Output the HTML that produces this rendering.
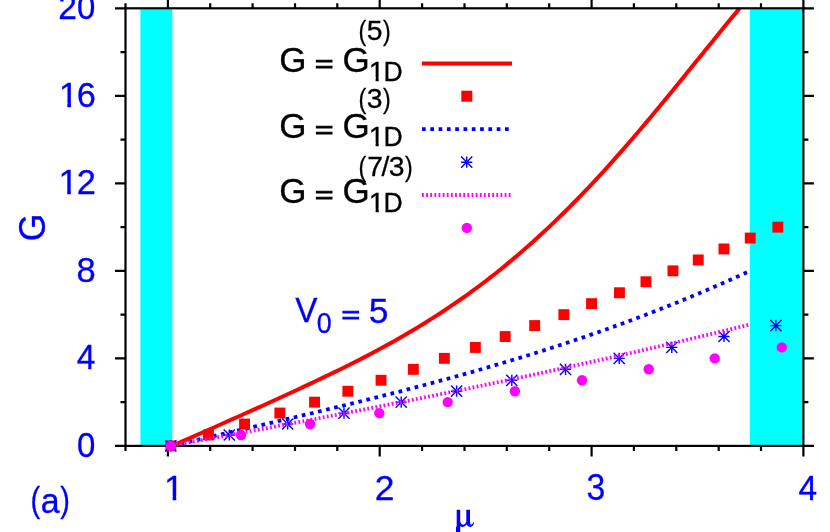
<!DOCTYPE html>
<html><head><meta charset="utf-8"><title>G vs mu</title>
<style>
html,body{margin:0;padding:0;background:#fff;overflow:hidden}
svg{display:block;will-change:transform}
text{font-family:"Liberation Sans",sans-serif}
text.mu{font-family:"Liberation Serif",serif}
</style></head><body>
<svg width="830" height="532" viewBox="0 0 830 532">
<rect x="0" y="0" width="830" height="532" fill="#fff"/>
<rect x="140.4" y="9.3" width="31.9" height="436" fill="#0ff"/>
<rect x="749.9" y="9.3" width="52.6" height="436" fill="#0ff"/>
<polyline points="172.5,445.6 178.5,444.2 184.5,442.8 190.5,441.5 196.5,440.1 202.5,438.7 208.5,437.3 214.5,435.9 220.5,434.5 226.5,433.1 232.5,431.7 238.5,430.4 244.5,429.0 250.5,427.6 256.5,426.2 262.5,424.8 268.5,423.4 274.5,422.0 280.5,420.6 286.5,419.2 292.5,417.8 298.5,416.4 304.5,414.9 310.5,413.5 316.5,412.1 322.5,410.6 328.5,409.2 334.5,407.7 340.5,406.3 346.5,404.8 352.5,403.4 358.5,401.9 364.5,400.4 370.5,398.9 376.5,397.4 382.5,395.9 388.5,394.3 394.5,392.8 400.5,391.3 406.5,389.7 412.5,388.1 418.5,386.6 424.5,385.0 430.5,383.4 436.5,381.7 442.5,380.1 448.5,378.5 454.5,376.8 460.5,375.2 466.5,373.5 472.5,371.8 478.5,370.1 484.5,368.3 490.5,366.6 496.5,364.8 502.5,363.0 508.5,361.2 514.5,359.4 520.5,357.6 526.5,355.8 532.5,353.9 538.5,352.0 544.5,350.1 550.5,348.2 556.5,346.2 562.5,344.3 568.5,342.3 574.5,340.3 580.5,338.3 586.5,336.2 592.5,334.1 598.5,332.1 604.5,329.9 610.5,327.8 616.5,325.6 622.5,323.5 628.5,321.3 634.5,319.0 640.5,316.8 646.5,314.5 652.5,312.2 658.5,309.8 664.5,307.5 670.5,305.1 676.5,302.7 682.5,300.2 688.5,297.8 694.5,295.3 700.5,292.8 706.5,290.2 712.5,287.6 718.5,285.0 724.5,282.4 730.5,279.7 736.5,277.0 742.5,274.3 748.5,271.5 750.5,270.6" fill="none" stroke="#00f" stroke-width="3.8" stroke-dasharray="3.7 4.6"/>
<polyline points="172.5,445.7 178.5,443.1 184.5,440.4 190.5,437.8 196.5,435.2 202.5,432.5 208.5,429.9 214.5,427.2 220.5,424.5 226.5,421.8 232.5,419.2 238.5,416.5 244.5,413.8 250.5,411.1 256.5,408.4 262.5,405.7 268.5,403.0 274.5,400.2 280.5,397.5 286.5,394.8 292.5,392.0 298.5,389.2 304.5,386.4 310.5,383.6 316.5,380.8 322.5,377.9 328.5,375.0 334.5,372.1 340.5,369.2 346.5,366.2 352.5,363.2 358.5,360.2 364.5,357.1 370.5,353.9 376.5,350.7 382.5,347.5 388.5,344.2 394.5,340.9 400.5,337.5 406.5,334.0 412.5,330.5 418.5,326.9 424.5,323.2 430.5,319.4 436.5,315.6 442.5,311.7 448.5,307.7 454.5,303.7 460.5,299.5 466.5,295.3 472.5,290.9 478.5,286.5 484.5,282.0 490.5,277.4 496.5,272.7 502.5,267.9 508.5,262.9 514.5,257.9 520.5,252.8 526.5,247.6 532.5,242.3 538.5,236.8 544.5,231.3 550.5,225.6 556.5,219.9 562.5,214.0 568.5,208.1 574.5,202.0 580.5,195.9 586.5,189.6 592.5,183.3 598.5,176.8 604.5,170.3 610.5,163.6 616.5,156.9 622.5,150.1 628.5,143.2 634.5,136.2 640.5,129.2 646.5,122.1 652.5,115.0 658.5,107.7 664.5,100.5 670.5,93.2 676.5,85.8 682.5,78.4 688.5,71.0 694.5,63.6 700.5,56.2 706.5,48.8 712.5,41.4 718.5,34.0 724.5,26.6 730.5,19.3 736.5,12.1 739.5,8.5" fill="none" stroke="#f00" stroke-width="4" stroke-linejoin="round"/>
<g stroke="#000" stroke-width="2.2" fill="none">
<rect x="125.5" y="8.3" width="677.9" height="437.6"/>
<path d="M125.5 445.9V450.9M125.5 8.3V3.3M167.9 445.9V456.4M167.9 8.3V-2.2M210.2 445.9V450.9M210.2 8.3V3.3M252.6 445.9V450.9M252.6 8.3V3.3M295.0 445.9V450.9M295.0 8.3V3.3M337.3 445.9V450.9M337.3 8.3V3.3M379.7 445.9V456.4M379.7 8.3V-2.2M422.1 445.9V450.9M422.1 8.3V3.3M464.5 445.9V450.9M464.5 8.3V3.3M506.8 445.9V450.9M506.8 8.3V3.3M549.2 445.9V450.9M549.2 8.3V3.3M591.6 445.9V456.4M591.6 8.3V-2.2M633.9 445.9V450.9M633.9 8.3V3.3M676.3 445.9V450.9M676.3 8.3V3.3M718.7 445.9V450.9M718.7 8.3V3.3M761.0 445.9V450.9M761.0 8.3V3.3M803.4 445.9V456.4M803.4 8.3V-2.2M125.5 445.9H115.0M803.4 445.9H813.9M125.5 402.1H120.5M803.4 402.1H808.4M125.5 358.4H115.0M803.4 358.4H813.9M125.5 314.6H120.5M803.4 314.6H808.4M125.5 270.9H115.0M803.4 270.9H813.9M125.5 227.1H120.5M803.4 227.1H808.4M125.5 183.3H115.0M803.4 183.3H813.9M125.5 139.6H120.5M803.4 139.6H808.4M125.5 95.8H115.0M803.4 95.8H813.9M125.5 52.1H120.5M803.4 52.1H808.4M125.5 8.3H115.0M803.4 8.3H813.9"/>
</g>
<rect x="165.4" y="440.4" width="10.9" height="10.9" fill="#f00"/>
<rect x="203.0" y="429.5" width="10.9" height="10.9" fill="#f00"/>
<rect x="239.1" y="418.6" width="10.9" height="10.9" fill="#f00"/>
<rect x="274.4" y="407.6" width="10.9" height="10.9" fill="#f00"/>
<rect x="309.1" y="396.7" width="10.9" height="10.9" fill="#f00"/>
<rect x="342.4" y="385.8" width="10.9" height="10.9" fill="#f00"/>
<rect x="375.6" y="374.8" width="10.9" height="10.9" fill="#f00"/>
<rect x="407.9" y="363.9" width="10.9" height="10.9" fill="#f00"/>
<rect x="438.9" y="352.9" width="10.9" height="10.9" fill="#f00"/>
<rect x="469.9" y="342.0" width="10.9" height="10.9" fill="#f00"/>
<rect x="499.7" y="331.1" width="10.9" height="10.9" fill="#f00"/>
<rect x="529.2" y="320.1" width="10.9" height="10.9" fill="#f00"/>
<rect x="558.4" y="309.2" width="10.9" height="10.9" fill="#f00"/>
<rect x="586.1" y="298.2" width="10.9" height="10.9" fill="#f00"/>
<rect x="614.0" y="287.3" width="10.9" height="10.9" fill="#f00"/>
<rect x="640.5" y="276.3" width="10.9" height="10.9" fill="#f00"/>
<rect x="667.5" y="265.4" width="10.9" height="10.9" fill="#f00"/>
<rect x="692.8" y="254.5" width="10.9" height="10.9" fill="#f00"/>
<rect x="718.5" y="243.5" width="10.9" height="10.9" fill="#f00"/>
<rect x="744.8" y="232.6" width="10.9" height="10.9" fill="#f00"/>
<rect x="772.4" y="221.7" width="10.9" height="10.9" fill="#f00"/>
<path d="M165.2 445.9H176.4M170.8 440.3V451.5M165.2 440.3L176.4 451.5M165.2 451.5L176.4 440.3" stroke="#00f" stroke-width="1.4" fill="none"/>
<path d="M223.7 435.0H234.9M229.3 429.4V440.6M223.7 429.4L234.9 440.6M223.7 440.6L234.9 429.4" stroke="#00f" stroke-width="1.4" fill="none"/>
<path d="M282.1 424.0H293.3M287.7 418.4V429.6M282.1 418.4L293.3 429.6M282.1 429.6L293.3 418.4" stroke="#00f" stroke-width="1.4" fill="none"/>
<path d="M338.4 413.1H349.6M344.0 407.5V418.7M338.4 407.5L349.6 418.7M338.4 418.7L349.6 407.5" stroke="#00f" stroke-width="1.4" fill="none"/>
<path d="M395.6 402.1H406.8M401.2 396.5V407.7M395.6 396.5L406.8 407.7M395.6 407.7L406.8 396.5" stroke="#00f" stroke-width="1.4" fill="none"/>
<path d="M451.0 391.2H462.2M456.6 385.6V396.8M451.0 385.6L462.2 396.8M451.0 396.8L462.2 385.6" stroke="#00f" stroke-width="1.4" fill="none"/>
<path d="M506.2 380.3H517.4M511.8 374.7V385.9M506.2 374.7L517.4 385.9M506.2 385.9L517.4 374.7" stroke="#00f" stroke-width="1.4" fill="none"/>
<path d="M559.9 369.3H571.1M565.5 363.7V374.9M559.9 363.7L571.1 374.9M559.9 374.9L571.1 363.7" stroke="#00f" stroke-width="1.4" fill="none"/>
<path d="M613.6 358.4H624.8M619.2 352.8V364.0M613.6 352.8L624.8 364.0M613.6 364.0L624.8 352.8" stroke="#00f" stroke-width="1.4" fill="none"/>
<path d="M666.2 347.4H677.4M671.8 341.8V353.0M666.2 341.8L677.4 353.0M666.2 353.0L677.4 341.8" stroke="#00f" stroke-width="1.4" fill="none"/>
<path d="M718.4 336.5H729.6M724.0 330.9V342.1M718.4 330.9L729.6 342.1M718.4 342.1L729.6 330.9" stroke="#00f" stroke-width="1.4" fill="none"/>
<path d="M770.3 325.6H781.5M775.9 320.0V331.2M770.3 320.0L781.5 331.2M770.3 331.2L781.5 320.0" stroke="#00f" stroke-width="1.4" fill="none"/>
<polyline points="172.5,445.4 178.5,444.3 184.5,443.2 190.5,442.1 196.5,441.0 202.5,439.9 208.5,438.8 214.5,437.7 220.5,436.7 226.5,435.6 232.5,434.4 238.5,433.3 244.5,432.2 250.5,431.1 256.5,430.0 262.5,428.9 268.5,427.8 274.5,426.6 280.5,425.5 286.5,424.4 292.5,423.3 298.5,422.1 304.5,421.0 310.5,419.8 316.5,418.7 322.5,417.5 328.5,416.4 334.5,415.2 340.5,414.1 346.5,412.9 352.5,411.7 358.5,410.6 364.5,409.4 370.5,408.2 376.5,407.0 382.5,405.8 388.5,404.6 394.5,403.4 400.5,402.3 406.5,401.1 412.5,399.8 418.5,398.6 424.5,397.4 430.5,396.2 436.5,395.0 442.5,393.8 448.5,392.5 454.5,391.3 460.5,390.1 466.5,388.8 472.5,387.6 478.5,386.3 484.5,385.1 490.5,383.8 496.5,382.5 502.5,381.3 508.5,380.0 514.5,378.7 520.5,377.4 526.5,376.1 532.5,374.8 538.5,373.5 544.5,372.2 550.5,370.9 556.5,369.6 562.5,368.3 568.5,367.0 574.5,365.7 580.5,364.3 586.5,363.0 592.5,361.6 598.5,360.3 604.5,358.9 610.5,357.6 616.5,356.2 622.5,354.9 628.5,353.5 634.5,352.1 640.5,350.7 646.5,349.3 652.5,347.9 658.5,346.5 664.5,345.1 670.5,343.7 676.5,342.3 682.5,340.9 688.5,339.4 694.5,338.0 700.5,336.6 706.5,335.1 712.5,333.7 718.5,332.2 724.5,330.8 730.5,329.3 736.5,327.8 742.5,326.3 748.5,324.8 750.5,324.3" fill="none" stroke="#f0f" stroke-width="3.8" stroke-dasharray="1.8 2.33"/>
<circle cx="170.8" cy="445.9" r="5.2" fill="#f0f"/>
<circle cx="241.0" cy="435.0" r="5.2" fill="#f0f"/>
<circle cx="310.1" cy="424.0" r="5.2" fill="#f0f"/>
<circle cx="379.3" cy="413.1" r="5.2" fill="#f0f"/>
<circle cx="447.7" cy="402.1" r="5.2" fill="#f0f"/>
<circle cx="514.9" cy="391.2" r="5.2" fill="#f0f"/>
<circle cx="582.0" cy="380.3" r="5.2" fill="#f0f"/>
<circle cx="648.7" cy="369.3" r="5.2" fill="#f0f"/>
<circle cx="714.7" cy="358.4" r="5.2" fill="#f0f"/>
<circle cx="781.8" cy="347.4" r="5.2" fill="#f0f"/>
<line x1="422" y1="63.5" x2="512" y2="63.5" stroke="#f00" stroke-width="4"/>
<rect x="461.3" y="90.7" width="11.0" height="11.0" fill="#f00"/>
<line x1="422" y1="129.2" x2="512" y2="129.2" stroke="#00f" stroke-width="3.8" stroke-dasharray="3.7 4.6"/>
<path d="M461.1 162.2H472.3M466.7 156.6V167.8M461.1 156.6L472.3 167.8M461.1 167.8L472.3 156.6" stroke="#00f" stroke-width="1.4" fill="none"/>
<line x1="422" y1="195" x2="512" y2="195" stroke="#f0f" stroke-width="3.8" stroke-dasharray="1.8 2.33"/>
<circle cx="466.8" cy="227.9" r="5.2" fill="#f0f"/>
<g fill="#00f" stroke="#00f" stroke-width="0.30" font-size="35.4">
<text transform="translate(86.08 457.00) scale(0.930 1.010)" x="-9.84" y="0" font-size="35.40">0</text>
<text transform="translate(86.00 369.48) scale(0.945 1.000)" x="-9.73" y="0" font-size="35.40">4</text>
<text transform="translate(86.05 281.96) scale(0.975 1.000)" x="-9.84" y="0" font-size="35.40">8</text>
<text x="58.57" y="194.4" font-size="35.40">1</text><rect x="60.37" y="190.60" width="6.81" height="5.24" fill="#fff" stroke="none"/><rect x="70.90" y="190.60" width="6.53" height="5.24" fill="#fff" stroke="none"/>
<text transform="translate(86.20 194.44) scale(0.970 1.000)" x="-9.84" y="0" font-size="35.40">2</text>
<text x="58.67" y="106.9" font-size="35.40">1</text><rect x="60.47" y="103.08" width="6.81" height="5.24" fill="#fff" stroke="none"/><rect x="71.00" y="103.08" width="6.53" height="5.24" fill="#fff" stroke="none"/>
<text transform="translate(86.30 106.92) scale(0.970 1.000)" x="-9.96" y="0" font-size="35.40">6</text>
<text transform="translate(67.50 19.40) scale(0.950 1.000)" x="-9.84" y="0" font-size="35.40">2</text>
<text transform="translate(86.10 19.40) scale(0.930 1.010)" x="-9.84" y="0" font-size="35.40">0</text>
<text x="374.71" y="499.90" font-size="35.40">2</text>
<text transform="translate(595.90 500.20) scale(0.955 1.020)" x="-9.74" y="0" font-size="35.40">3</text>
<text transform="translate(807.70 499.80) scale(0.945 1.000)" x="-9.73" y="0" font-size="35.40">4</text>
<text x="163.97" y="499.9" font-size="35.40">1</text><rect x="165.77" y="496.06" width="6.81" height="5.24" fill="#fff" stroke="none"/><rect x="176.30" y="496.06" width="6.53" height="5.24" fill="#fff" stroke="none"/>
<text transform="translate(36.05 512.10) scale(0.820 0.965)" x="-6.89" y="0" font-size="35.40">(</text>
<text transform="translate(51.00 512.70) scale(0.960 0.970)" x="-10.60" y="0" font-size="35.40">a</text>
<text transform="translate(64.35 512.10) scale(0.820 0.965)" x="-4.90" y="0" font-size="35.40">)</text>
<text transform="translate(44.9,227.4) rotate(-90) scale(1,1.05)" text-anchor="middle">G</text>
<g stroke="none"><title>μ</title><path d="M456.7 509.8H460.2V520.5Q460.4 524.6 463.4 524.7Q465.6 524.6 466.3 521.5V509.8H470V521.5Q470.1 524.6 471.2 524.7Q472.6 524.6 473.3 522.2L474.2 522.6Q473.4 526.8 470.3 526.9Q467.6 526.9 466.6 524.6Q465.2 526.9 462.6 526.9Q460.9 526.9 460.2 526V532H456V527.5Q456.7 526.6 456.7 525Z"/></g>
<text transform="translate(306.30 322.40) scale(0.940 1.000)" x="-11.81" y="0" font-size="35.40">V</text>
<text transform="translate(324.35 333.00) scale(0.950 1.030)" x="-7.88" y="0" font-size="28.32">0</text>
<text transform="translate(350.65 315.15) scale(0.895 0.667)" x="-10.33" y="11.65" font-size="35.40" stroke-width="1.5">=</text>
<text x="368.84" y="322.90" font-size="35.40">5</text>
</g>
<g fill="#000" stroke="#000" stroke-width="0.30" font-size="35.4">
<text transform="translate(292.55 71.80) scale(0.990 1.015)" x="-13.34" y="0" font-size="35.40">G</text>
<text transform="translate(324.20 64.05) scale(0.890 0.667)" x="-10.33" y="11.65" font-size="35.40" stroke-width="1.5">=</text>
<text transform="translate(355.70 71.80) scale(0.990 1.015)" x="-13.34" y="0" font-size="35.40">G</text>
<text x="368.78" y="80.5" font-size="28.32">1</text><rect x="370.03" y="77.18" width="5.56" height="4.72" fill="#fff" stroke="none"/><rect x="378.70" y="77.18" width="5.34" height="4.72" fill="#fff" stroke="none"/>
<text transform="translate(393.50 80.50) scale(0.940 1.000)" x="-10.71" y="0" font-size="28.32">D</text>
<text transform="translate(363.00 40.40) scale(0.820 1.000)" x="-5.51" y="0" font-size="28.32">(</text>
<text x="366.70" y="40.40" font-size="28.32">5</text>
<text transform="translate(386.10 40.40) scale(0.820 1.000)" x="-3.92" y="0" font-size="28.32">)</text>
<text transform="translate(292.55 137.60) scale(0.990 1.015)" x="-13.34" y="0" font-size="35.40">G</text>
<text transform="translate(324.20 129.85) scale(0.890 0.667)" x="-10.33" y="11.65" font-size="35.40" stroke-width="1.5">=</text>
<text transform="translate(355.70 137.60) scale(0.990 1.015)" x="-13.34" y="0" font-size="35.40">G</text>
<text x="368.78" y="146.3" font-size="28.32">1</text><rect x="370.03" y="142.98" width="5.56" height="4.72" fill="#fff" stroke="none"/><rect x="378.70" y="142.98" width="5.34" height="4.72" fill="#fff" stroke="none"/>
<text transform="translate(393.50 146.30) scale(0.940 1.000)" x="-10.71" y="0" font-size="28.32">D</text>
<text transform="translate(363.00 107.60) scale(0.820 1.000)" x="-5.51" y="0" font-size="28.32">(</text>
<text x="366.76" y="107.60" font-size="28.32">3</text>
<text transform="translate(386.10 107.60) scale(0.820 1.000)" x="-3.92" y="0" font-size="28.32">)</text>
<text transform="translate(292.55 203.30) scale(0.990 1.015)" x="-13.34" y="0" font-size="35.40">G</text>
<text transform="translate(324.20 195.55) scale(0.890 0.667)" x="-10.33" y="11.65" font-size="35.40" stroke-width="1.5">=</text>
<text transform="translate(355.70 203.30) scale(0.990 1.015)" x="-13.34" y="0" font-size="35.40">G</text>
<text x="368.78" y="212.0" font-size="28.32">1</text><rect x="370.03" y="208.68" width="5.56" height="4.72" fill="#fff" stroke="none"/><rect x="378.70" y="208.68" width="5.34" height="4.72" fill="#fff" stroke="none"/>
<text transform="translate(393.50 212.00) scale(0.940 1.000)" x="-10.71" y="0" font-size="28.32">D</text>
<text transform="translate(363.10 175.50) scale(0.820 1.000)" x="-5.51" y="0" font-size="28.32">(</text>
<text x="367.26" y="175.50" font-size="28.32">7</text>
<text x="381.57" y="175.50" font-size="28.32">/</text>
<text x="388.76" y="175.50" font-size="28.32">3</text>
<text transform="translate(408.20 175.50) scale(0.820 1.000)" x="-3.92" y="0" font-size="28.32">)</text>
</g>
</svg></body></html>
